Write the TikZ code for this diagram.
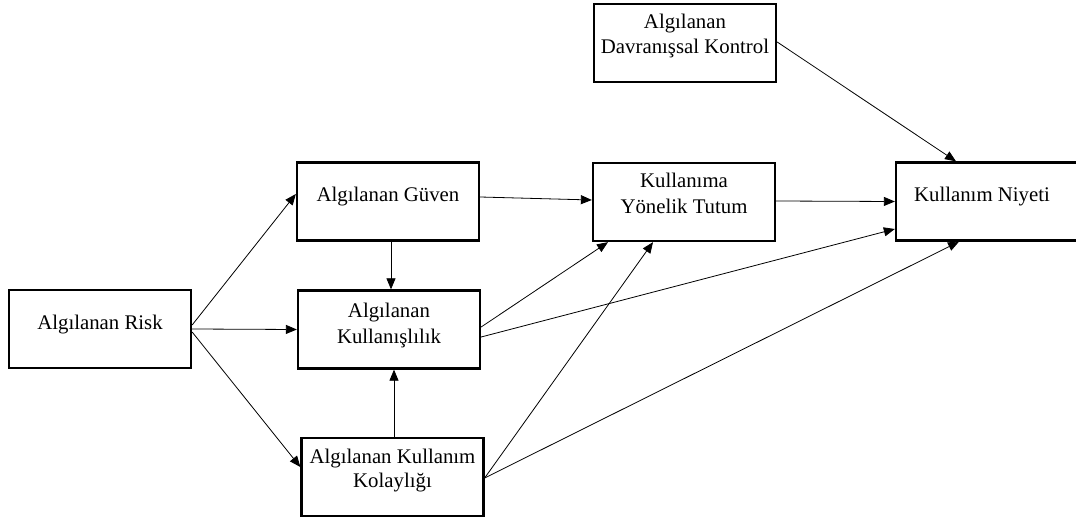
\documentclass[tikz,border=0pt]{standalone}
\usepackage{fontspec}
\setmainfont{Liberation Serif}
\usetikzlibrary{arrows.meta,calc}

\tikzset{
  box/.style={draw, line width=2.3pt, minimum width=182pt, minimum height=78pt, inner sep=0pt},
  lbl/.style={anchor=base, inner sep=0pt, font=\fontsize{20.8}{25}\selectfont},
  link/.style={line width=0.8pt, -{Triangle[length=11pt,width=9pt]}, shorten >=0pt}
}

\begin{document}
\begin{tikzpicture}[x=1pt, y=-1pt]
  \useasboundingbox (0,0) rectangle (1076,521);

  % boxes
  \node[box] (risk)    at (100,329)   {};
  \node[box] (guven)   at (388,201.5) {};
  \node[box] (kull)    at (389,329.5) {};
  \node[box] (kolay)   at (392.5,477) {};
  \node[box] (kontrol) at (685,43)    {};
  \node[box] (tutum)   at (684,202)   {};
  \node[box] (niyeti)  at (987,201.5) {};

  % labels
  \node[lbl] (risk-t)    at (100,329)   {Algılanan Risk};
  \node[lbl] (guven-t)   at (388,202)   {Algılanan Güven};
  \node[lbl] (kull-t1)   at (389,317)   {Algılanan};
  \node[lbl] (kull-t2)   at (389,343)   {Kullanışlılık};
  \node[lbl] (kolay-t1)  at (392.5,463) {Algılanan Kullanım};
  \node[lbl] (kolay-t2)  at (392.5,487) {Kolaylığı};
  \node[lbl] (kontrol-t1) at (685,29)   {Algılanan};
  \node[lbl] (kontrol-t2) at (685,54)   {Davranışsal Kontrol};
  \node[lbl] (tutum-t1)  at (684,188)   {Kullanıma};
  \node[lbl] (tutum-t2)  at (684,214)   {Yönelik Tutum};
  \node[lbl] (niyeti-t)  at (982,202)   {Kullanım Niyeti};

  % connectors
  \draw[link] ($(risk.east)+(0,-4)$) -- ($(guven.west)+(0,-7.5)$);
  \draw[link] (risk.east) -- (kull.west);
  \draw[link] ($(risk.east)+(0,3)$) -- ($(kolay.west)+(0,-10)$);
  \draw[link] ($(guven.south)+(3,0)$) -- ($(kull.north)+(2,0)$);
  \draw[link] ($(kolay.north)+(1.5,0)$) -- ($(kull.south)+(5,0)$);
  \draw[link] ($(guven.east)+(0,-4.5)$) -- ($(tutum.west)+(0,-2)$);
  \draw[link] ($(kull.east)+(0,-2.5)$) -- ($(tutum.south)+(-76,0)$);
  \draw[link] ($(kull.east)+(0,7.5)$) -- ($(niyeti.west)+(0,27.5)$);
  \draw[link] ($(kolay.east)+(0,1)$) -- ($(tutum.south)+(-31,0)$);
  \draw[link] ($(kolay.east)+(0,1)$) -- ($(niyeti.south)+(-28,0)$);
  \draw[link] ($(tutum.east)+(0,-1)$) -- (niyeti.west);
  \draw[link] ($(kontrol.east)+(0,-1)$) -- ($(niyeti.north)+(-31,0)$);
\end{tikzpicture}
\end{document}
